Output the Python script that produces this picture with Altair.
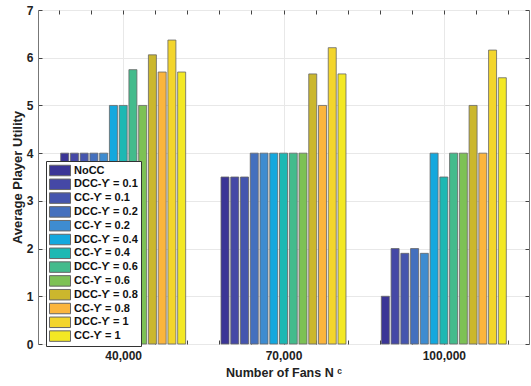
import altair as alt
import pandas as pd

fans = [40000, 70000, 100000]
series = ["NoCC", "DCC-ϒ = 0.1", "CC-ϒ = 0.1", "DCC-ϒ = 0.2", "CC-ϒ = 0.2",
          "DCC-ϒ = 0.4", "CC-ϒ = 0.4", "DCC-ϒ = 0.6", "CC-ϒ = 0.6",
          "DCC-ϒ = 0.8", "CC-ϒ = 0.8", "DCC-ϒ = 1", "CC-ϒ = 1"]
colors = ["#3b3596", "#4548a6", "#4555ae", "#4470be", "#3e8cd0",
          "#14a8de", "#1db8b3", "#44bb8c", "#7dc155",
          "#cbb72d", "#fbb53d", "#f3d52c", "#f3e824"]
vals_40k = [4, 4, 4, 4, 4, 5, 5, 5.75, 5, 6.06, 5.7, 6.37, 5.7]
vals_70k = [3.5, 3.5, 3.5, 4, 4, 4, 4, 4, 4, 5.66, 5, 6.21, 5.66]
vals_100k = [1, 2, 1.9, 2, 1.9, 4, 3.5, 4, 4, 5, 4, 6.16, 5.58]
x_ticks = list(range(28000, 113000, 6000))
y_ticks = list(range(0, 8))

rows = []
for f, vals in zip(fans, [vals_40k, vals_70k, vals_100k]):
    for i, (s, v) in enumerate(zip(series, vals)):
        rows.append({"fans": f, "series": s, "idx": i, "value": v})
df = pd.DataFrame(rows)

FONT = "Liberation Sans"
xscale = alt.Scale(domain=[25000, 115000], nice=False, zero=False)
yscale = alt.Scale(domain=[0, 7], nice=False)
color = alt.Color("series:N", scale=alt.Scale(domain=series, range=colors),
                  sort=series,
                  legend=alt.Legend(orient="none", legendX=8, legendY=151, title=None,
                                    symbolType="M-1,-0.5H1V0.5H-1Z", symbolSize=441,
                                    symbolStrokeColor="#666", symbolStrokeWidth=1,
                                    symbolOpacity=1, clipHeight=13, rowPadding=0.8,
                                    labelFont=FONT, labelFontWeight="bold", labelFontSize=11,
                                    labelColor="#111", labelOffset=3,
                                    strokeColor="#333", fillColor="white", padding=3))

base = alt.Chart(df).transform_calculate(
    xpos="datum.fans + (datum.idx - 6) * 1824"
)

grid = base.mark_point(opacity=0).encode(
    x=alt.X("fans:Q", scale=xscale,
            axis=alt.Axis(orient="top", values=fans, grid=True, gridColor="#e8e8e8",
                          ticks=False, labels=False, domain=False, title=None)),
    y=alt.Y("value:Q", scale=yscale,
            axis=alt.Axis(orient="right", values=y_ticks, grid=True, gridColor="#e8e8e8",
                          ticks=False, labels=False, domain=False, title=None)),
)

bars = base.mark_bar(size=8, stroke="#666", strokeWidth=0.8).encode(
    x=alt.X("xpos:Q", scale=xscale,
            axis=alt.Axis(orient="bottom", values=x_ticks, grid=False, domain=False,
                          offset=-4, tickSize=4, tickColor="#444",
                          labelExpr="datum.value % 30000 == 10000 ? format(datum.value, ',') : ''",
                          labelPadding=6, labelFont=FONT, labelFontWeight="bold",
                          labelFontSize=12, labelColor="#222",
                          title="Number of Fans N ᶜ", titleFont=FONT, titleFontWeight="bold",
                          titleFontSize=12.5, titleColor="#222", titlePadding=5)),
    y=alt.Y("value:Q", scale=yscale,
            axis=alt.Axis(orient="left", values=y_ticks, grid=False, domain=False,
                          offset=-4, tickSize=4, tickColor="#444",
                          labelPadding=5, labelFont=FONT, labelFontWeight="bold",
                          labelFontSize=12, labelColor="#222",
                          title="Average Player Utility", titleFont=FONT,
                          titleFontWeight="bold", titleFontSize=13, titleColor="#222",
                          titlePadding=2)),
    color=color,
)

ticks = base.mark_point(opacity=0).encode(
    x=alt.X("fans:Q", scale=xscale,
            axis=alt.Axis(orient="top", values=x_ticks, grid=False, domain=False,
                          offset=-4, tickSize=4, tickColor="#444", labels=False, title=None)),
    y=alt.Y("value:Q", scale=yscale,
            axis=alt.Axis(orient="right", values=y_ticks, grid=False, domain=False,
                          offset=-4, tickSize=4, tickColor="#444", labels=False, title=None)),
)

chart = alt.layer(grid, bars, ticks).resolve_axis(
    x="independent", y="independent"
).properties(
    width=491, height=334,
    autosize=alt.AutoSizeParams(type="none"),
    padding={"left": 38, "top": 10, "right": 2, "bottom": 42},
    background="white",
).configure_view(stroke="#777", strokeWidth=1)

chart.save("out.html", embed_options={"renderer": "svg", "actions": False})
